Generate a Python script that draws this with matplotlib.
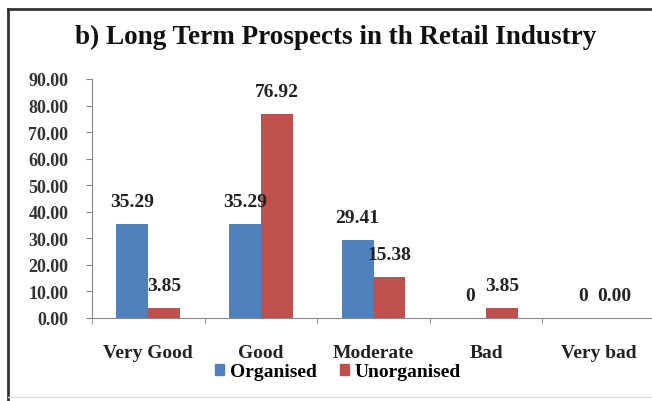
import numpy as np
import matplotlib
matplotlib.use('Agg')
import matplotlib.pyplot as plt
from matplotlib.patches import Patch
from matplotlib.lines import Line2D

categories = ['Very Good', 'Good', 'Moderate', 'Bad', 'Very bad']
organised = [35.29, 35.29, 29.41, 0, 0]
unorganised = [3.85, 76.92, 15.38, 3.85, 0.00]
organised_labels = ['35.29', '35.29', '29.41', '0', '0']
unorganised_labels = ['3.85', '76.92', '15.38', '3.85', '0.00']
yticks = np.arange(0, 91, 10)

blue = '#4F81BD'
red = '#C0504D'
serif = 'Liberation Serif'

fig = plt.figure(figsize=(6.52, 4.02), dpi=100)
ax = fig.add_axes([92 / 652, 1 - 319 / 402, 563 / 652, 239 / 402])

x = np.arange(len(categories))
w = 0.284
ax.bar(x - w / 2, organised, w, color=blue, label='Organised')
ax.bar(x + w / 2, unorganised, w, color=red, label='Unorganised')

# data labels above the bars
for xi, v, s in zip(x - w / 2, organised, organised_labels):
    ax.annotate(s, (xi, v), xytext=(0, 10), textcoords='offset points',
                ha='center', va='bottom', fontsize=14, fontweight='bold',
                family=serif, color='#222222')
for xi, v, s in zip(x + w / 2, unorganised, unorganised_labels):
    ax.annotate(s, (xi, v), xytext=(0, 10), textcoords='offset points',
                ha='center', va='bottom', fontsize=14, fontweight='bold',
                family=serif, color='#222222')

ax.set_xlim(-0.5, 4.5)
ax.set_ylim(0, 90)
ax.set_yticks(yticks)
ax.set_yticklabels(['%.2f' % t for t in yticks], family=serif,
                   fontweight='bold', fontsize=13, color='#333333')
ax.set_xticks(x)
ax.set_xticklabels(categories, family=serif, fontweight='bold',
                   fontsize=14, color='#222222')
ax.set_xticks(np.arange(-0.5, 5, 1), minor=True)
ax.tick_params(axis='x', which='major', length=0, pad=19)
ax.tick_params(axis='x', which='minor', length=4, color='#888888')
ax.tick_params(axis='y', length=4, color='#888888', pad=13)

for s in ['top', 'right']:
    ax.spines[s].set_visible(False)
for s in ['left', 'bottom']:
    ax.spines[s].set_color('#888888')

fig.text(336 / 652, 1 - 37 / 402, 'b) Long Term Prospects in th Retail Industry',
         ha='center', va='center', fontsize=19.5, fontweight='bold',
         family=serif, color='#111111')

handles = [Patch(color=blue), Patch(color=red)]
fig.legend(handles, ['Organised', 'Unorganised'], loc='center',
           bbox_to_anchor=(338 / 652, 1 - 373 / 402), ncol=2, frameon=False,
           prop={'family': serif, 'weight': 'bold', 'size': 14},
           handlelength=0.45, handleheight=0.45, handletextpad=0.3,
           columnspacing=1.2)

# frame of the original picture
fig.add_artist(Line2D([8 / 652, 8 / 652], [0, 1 - 10 / 402], color='#333333', lw=2))
fig.add_artist(Line2D([8 / 652, 1], [1 - 10 / 402, 1 - 10 / 402], color='#333333', lw=2))
fig.add_artist(Line2D([8 / 652, 1], [1 - 398 / 402, 1 - 398 / 402], color='#dddddd', lw=1))

fig.savefig('out.png', dpi=100)
